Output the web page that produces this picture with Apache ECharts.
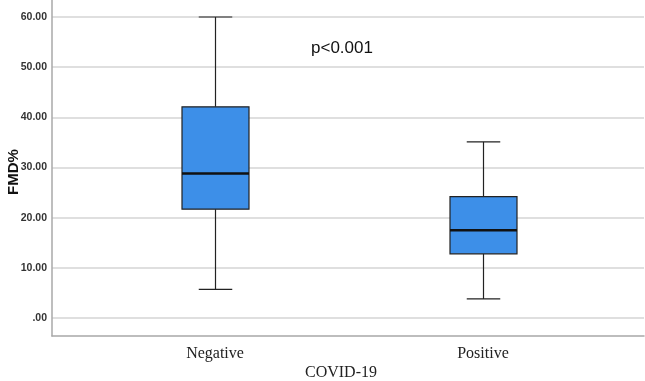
<!DOCTYPE html>
<html>
  <head>
    <meta charset="UTF-8" />
    <title></title>
    <style type="text/css">
      * {
        margin: 0;
        padding: 0;
      }
      #main {
        width: 645px;
        height: 381px;
        background-color: #fff;
      }
    </style>
  </head>
  <body>
    <div id="main"></div>
  </body>
  <script src="https://cdn.jsdelivr.net/npm/echarts@6/dist/echarts.min.js"></script>
  <script type="text/javascript">
    // 数据
    var categories = ['Negative', 'Positive']
    var minVals = [5.7, 3.8]
    var q1Vals = [21.7, 12.8]
    var medianVals = [28.8, 17.5]
    var q3Vals = [42.1, 24.2]
    var maxVals = [60.0, 35.1]
    var yTicks = [0, 10, 20, 30, 40, 50, 60]
    var pText = 'p<0.001'

    var boxData = []
    categories.forEach((c, i) => {
      boxData.push([i, minVals[i], q1Vals[i], medianVals[i], q3Vals[i], maxVals[i]])
    })

    function renderBox(params, api) {
      var x = api.value(0)
      var pMin = api.coord([x, api.value(1)])
      var pQ1 = api.coord([x, api.value(2)])
      var pMed = api.coord([x, api.value(3)])
      var pQ3 = api.coord([x, api.value(4)])
      var pMax = api.coord([x, api.value(5)])
      var band = api.size([1, 0])[0]
      var half = band * 0.125
      var cap = half / 2
      var cx = Math.round(pMed[0]) + 0.5
      var lineStyle = { stroke: '#222', lineWidth: 1.2 }
      return {
        type: 'group',
        children: [
          { type: 'line', shape: { x1: cx, y1: pMax[1], x2: cx, y2: pQ3[1] }, style: lineStyle },
          { type: 'line', shape: { x1: cx, y1: pQ1[1], x2: cx, y2: pMin[1] }, style: lineStyle },
          { type: 'line', shape: { x1: cx - cap, y1: pMax[1], x2: cx + cap, y2: pMax[1] }, style: lineStyle },
          { type: 'line', shape: { x1: cx - cap, y1: pMin[1], x2: cx + cap, y2: pMin[1] }, style: lineStyle },
          {
            type: 'rect',
            shape: { x: cx - half, y: pQ3[1], width: half * 2, height: pQ1[1] - pQ3[1] },
            style: { fill: '#3d8fe8', stroke: '#222', lineWidth: 1.2 }
          },
          { type: 'line', shape: { x1: cx - half, y1: pMed[1], x2: cx + half, y2: pMed[1] }, style: { stroke: '#111', lineWidth: 2.5 } }
        ]
      }
    }

    var myCharts = echarts.init(document.getElementById('main'))
    var option = {
      animation: false,
      backgroundColor: '#fff',
      grid: [
        { left: 52, right: 1, top: 0, bottom: 45, outerBoundsMode: 'none' },
        { left: 52, right: 1, top: 17, bottom: 63, outerBoundsMode: 'none' },
        { left: 81, right: 28, top: 17, bottom: 63, outerBoundsMode: 'none' }
      ],
      xAxis: [
        {
          gridIndex: 0,
          type: 'value',
          min: 0,
          max: 1,
          axisLine: { show: true, lineStyle: { color: '#a8a8a8', width: 1.5 } },
          axisTick: { show: false },
          axisLabel: { show: false },
          splitLine: { show: false }
        },
        {
          gridIndex: 1,
          type: 'value',
          show: false
        },
        {
          gridIndex: 2,
          type: 'category',
          data: categories,
          axisLine: { show: false },
          axisTick: { show: false },
          splitLine: { show: false },
          axisLabel: {
            margin: 28,
            color: '#222',
            fontFamily: 'Liberation Serif',
            fontSize: 16
          },
          name: 'COVID-19',
          nameLocation: 'middle',
          nameGap: 47,
          nameMoveOverlap: false,
          nameTextStyle: {
            color: '#222',
            fontFamily: 'Liberation Serif',
            fontSize: 16,
            padding: [0, 16, 0, 0]
          }
        }
      ],
      yAxis: [
        {
          gridIndex: 0,
          type: 'value',
          min: 0,
          max: 1,
          axisLine: { show: true, lineStyle: { color: '#a8a8a8', width: 1.5 } },
          axisTick: { show: false },
          axisLabel: { show: false },
          splitLine: { show: false }
        },
        {
          gridIndex: 1,
          type: 'value',
          min: yTicks[0],
          max: yTicks[yTicks.length - 1],
          interval: 10,
          axisLine: { show: false },
          axisTick: { show: false },
          axisLabel: {
            margin: 5,
            color: '#333',
            fontFamily: 'Liberation Sans',
            fontWeight: 'bold',
            fontSize: 10.5,
            formatter: (v) => (v === 0 ? '.00' : v.toFixed(2))
          },
          splitLine: { show: true, lineStyle: { color: '#d4d4d4', width: 1.5 } },
          name: 'FMD%',
          nameLocation: 'middle',
          nameGap: 31,
          nameMoveOverlap: false,
          nameTextStyle: {
            color: '#111',
            fontFamily: 'Liberation Sans',
            fontWeight: 'bold',
            fontSize: 15,
            padding: [0, 9, 0, 0]
          }
        },
        {
          gridIndex: 2,
          type: 'value',
          min: yTicks[0],
          max: yTicks[yTicks.length - 1],
          show: false
        }
      ],
      graphic: [
        {
          type: 'text',
          left: 311,
          top: 40,
          style: {
            text: pText,
            fill: '#111',
            font: '17px "Liberation Sans"'
          }
        }
      ],
      series: [
        {
          type: 'custom',
          xAxisIndex: 2,
          yAxisIndex: 2,
          data: boxData,
          encode: { x: 0, y: [1, 2, 3, 4, 5] },
          renderItem: renderBox
        }
      ]
    }
    myCharts.setOption(option)
  </script>
</html>
